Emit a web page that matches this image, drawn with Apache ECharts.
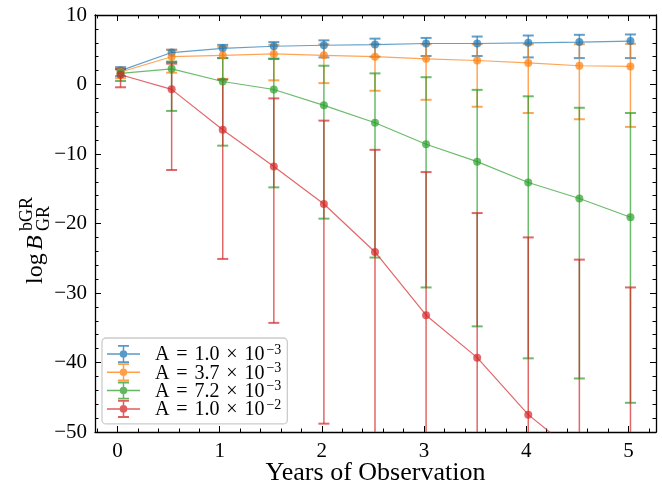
<!DOCTYPE html>
<html><head><meta charset="utf-8">
<script src="https://cdn.jsdelivr.net/npm/echarts@6/dist/echarts.min.js"></script>
<style>html,body{margin:0;padding:0;background:#fff}#c{width:662px;height:485px}</style>
</head><body><div id="c"></div>
<script>
// ---- data ----
const years = [0.03, 0.53, 1.03, 1.53, 2.02, 2.52, 3.02, 3.52, 4.02, 4.52, 5.02];

const blueMid = [2.0, 4.6, 5.2, 5.5, 5.65, 5.75, 5.9, 5.9, 6.0, 6.1, 6.25];
const blueLo  = [1.2, 3.2, 3.8, 3.7, 3.9, 4.0, 4.1, 4.1, 3.9, 3.8, 3.8];
const blueHi  = [2.5, 5.0, 5.7, 6.1, 6.35, 6.6, 6.7, 6.9, 7.05, 7.15, 7.2];

const orangeMid = [1.8, 4.0, 4.2, 4.4, 4.2, 4.0, 3.7, 3.45, 3.1, 2.7, 2.6];
const orangeLo  = [0.9, 1.7, 0.8, 0.6, 0.2, -0.9, -2.2, -3.2, -4.1, -5.0, -6.1];
const orangeHi  = [2.4, 5.0, 5.4, 5.7, 5.8, 5.8, 5.8, 5.8, 5.8, 5.8, 5.85];

const greenMid = [1.6, 2.25, 0.43, -0.72, -3.0, -5.5, -8.6, -11.1, -14.1, -16.4, -19.1];
const greenLo  = [0.5, -3.8, -8.8, -14.8, -19.3, -24.9, -29.2, -34.8, -39.4, -42.3, -45.8];
const greenHi  = [2.2, 3.3, 3.8, 3.7, 2.7, 1.6, 1.05, -0.77, -1.7, -3.35, -4.1];

const redMid = [1.4, -0.7, -6.5, -11.8, -17.2, -24.1, -33.2, -39.3, -47.5, -53.5, -60.0];
const redLo  = [-0.4, -12.3, -25.1, -34.3, -48.8, -62, -72, -78, -85, -92, -100];
const redHi  = [2.2, 3.0, 0.7, -2.0, -5.2, -9.4, -12.6, -18.5, -22.0, -25.2, -29.2];

const legendNames = ['A1', 'A2', 'A3', 'A4'];
const legendMant = ['1.0', '3.7', '7.2', '1.0'];
const legendExp = ['\u22123', '\u22123', '\u22123', '\u22122'];

const xMajor = [0, 1, 2, 3, 4, 5];
const yMin = -50, yMax = 10;

// ---- styling ----
const colors = ['#1f77b4', '#ff7f0e', '#2ca02c', '#d62728'];
const FONT = '"Liberation Serif", "DejaVu Serif", serif';
const xMinor = [];
for (let v = -0.2; v < 5.3; v += 0.2) {
  const r = Math.round(v * 10) / 10;
  if (Math.abs(r - Math.round(r)) > 1e-6) xMinor.push(r);
}
const mids = [blueMid, orangeMid, greenMid, redMid];
const los = [blueLo, orangeLo, greenLo, redLo];
const his = [blueHi, orangeHi, greenHi, redHi];

function errRender(color) {
  return function (params, api) {
    const x = api.value(0), lo = api.value(1), hi = api.value(2);
    const a = api.coord([x, lo]), b = api.coord([x, hi]);
    const cw = 5.5;
    return {
      type: 'group',
      children: [
        {type: 'line', shape: {x1: a[0], y1: a[1], x2: b[0], y2: b[1]}, style: {stroke: color, lineWidth: 1.5, opacity: 0.7}},
        {type: 'line', shape: {x1: a[0] - cw, y1: a[1], x2: a[0] + cw, y2: a[1]}, style: {stroke: color, lineWidth: 2, opacity: 0.7}},
        {type: 'line', shape: {x1: b[0] - cw, y1: b[1], x2: b[0] + cw, y2: b[1]}, style: {stroke: color, lineWidth: 2, opacity: 0.7}}
      ]
    };
  };
}

const series = [];
for (let k = 0; k < 4; k++) {
  series.push({
    type: 'custom', name: 'err' + k, clip: true,
    renderItem: errRender(colors[k]),
    data: years.map((x, i) => [x, los[k][i], his[k][i]]),
    silent: true
  });
  series.push({
    type: 'line', name: legendNames[k], clip: true,
    data: years.map((x, i) => [x, mids[k][i]]),
    symbol: 'circle', symbolSize: 8, showSymbol: true,
    lineStyle: {color: colors[k], width: 1.2, opacity: 0.7},
    itemStyle: {color: colors[k], opacity: 0.7},
    emphasis: {disabled: true},
    silent: true
  });
}

const iconPath = 'path://M0 8.25H33V9.75H0Z M15.75 0H17.25V18H15.75Z M11 0H22V1.8H11Z M11 16.2H22V18H11Z M20.3 9A3.8 3.8 0 1 1 12.7 9A3.8 3.8 0 1 1 20.3 9Z';

const axisCommon = (pos) => ({
  type: 'value', min: -0.22, max: 5.27, position: pos,
  axisLine: {show: true, onZero: false, lineStyle: {color: '#000', width: 1.3}},
  axisTick: {show: true, inside: true, length: 6, customValues: xMajor, lineStyle: {color: '#000', width: 1}},
  axisLabel: {show: false},
  splitLine: {show: false}
});
const axisMinor = (pos) => ({
  type: 'value', min: -0.22, max: 5.27, position: pos,
  axisLine: {show: false, onZero: false},
  axisTick: {show: true, inside: true, length: 3.5, customValues: xMinor, lineStyle: {color: '#000', width: 1}},
  axisLabel: {show: false},
  splitLine: {show: false}
});

const xBottom = axisCommon('bottom');
xBottom.axisLabel = {show: true, customValues: xMajor, margin: 9, color: '#000', fontFamily: FONT, fontSize: 21};
xBottom.name = 'Years of Observation';
xBottom.nameLocation = 'middle';
xBottom.nameGap = 28;
xBottom.nameMoveOverlap = false;
xBottom.nameTextStyle = {color: '#000', fontFamily: FONT, fontSize: 26};

const yAx = (pos, labels) => ({
  type: 'value', min: yMin, max: yMax, interval: 10, position: pos,
  axisLine: {show: true, onZero: false, lineStyle: {color: '#000', width: 1.3}},
  axisTick: {show: true, inside: true, length: 6, lineStyle: {color: '#000', width: 1}},
  minorTick: {show: true, splitNumber: 5, length: 3.5, lineStyle: {color: '#000', width: 1}},
  axisLabel: {show: labels, margin: 8, color: '#000', fontFamily: FONT, fontSize: 21,
    formatter: v => v < 0 ? '\u2212' + Math.abs(v) : String(v)},
  splitLine: {show: false}
});

const option = {
  animation: false,
  backgroundColor: '#fff',
  grid: {left: 95, top: 15, width: 561, height: 417, containLabel: false, outerBoundsMode: 'none'},
  xAxis: [xBottom, axisMinor('bottom'), axisCommon('top'), axisMinor('top')],
  yAxis: [yAx('left', true), yAx('right', false)],
  legend: {
    orient: 'vertical', left: 102, top: 338,
    padding: [5, 6, 4, 5],
    itemWidth: 33, itemHeight: 18, itemGap: -3.7,
    backgroundColor: 'rgba(255,255,255,0.85)',
    borderColor: '#cccccc', borderWidth: 1.3, borderRadius: 4,
    data: legendNames.map((n, k) => ({name: n, icon: iconPath, itemStyle: {color: colors[k], opacity: 0.75}})),
    formatter: function (name) {
      const i = legendNames.indexOf(name);
      return '{t|A}{op|=}{t|' + legendMant[i] + '}{op|\u00d7}{t|10}{s|' + legendExp[i] + '}';
    },
    textStyle: {
      padding: [0, 0, 0, 10],
      rich: {
        t: {fontFamily: FONT, fontSize: 20, color: '#000', lineHeight: 22, verticalAlign: 'bottom'},
        op: {fontFamily: FONT, fontSize: 20, color: '#000', lineHeight: 22, verticalAlign: 'bottom', width: 25, align: 'center'},
        s: {fontFamily: FONT, fontSize: 14, color: '#000', lineHeight: 14, verticalAlign: 'top', padding: [0, 0, 0, 2]}
      }
    },
    selectedMode: false
  },
  graphic: [{
    type: 'group', x: 36, y: 284, rotation: Math.PI / 2,
    children: [
      {type: 'text', x: 0, y: 0, style: {text: 'log', fontFamily: FONT, fontSize: 24, fill: '#000', verticalAlign: 'middle'}},
      {type: 'text', x: 34, y: 0, style: {text: 'B', fontFamily: FONT, fontStyle: 'italic', fontSize: 24, fill: '#000', verticalAlign: 'middle'}},
      {type: 'text', x: 53, y: -9, style: {text: 'bGR', fontFamily: FONT, fontSize: 18, fill: '#000', verticalAlign: 'middle'}},
      {type: 'text', x: 53, y: 8, style: {text: 'GR', fontFamily: FONT, fontSize: 18, fill: '#000', verticalAlign: 'middle'}}
    ]
  }],
  series: series
};

const chart = echarts.init(document.getElementById('c'), null, {renderer: 'canvas'});
chart.setOption(option);
</script>
</body></html>
